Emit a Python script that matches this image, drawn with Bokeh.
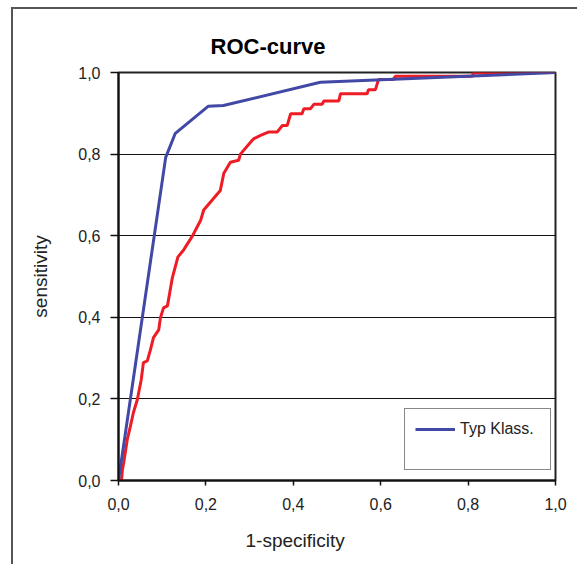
from bokeh.plotting import figure
from bokeh.models import Legend, LegendItem, FixedTicker, Title
from bokeh.embed import file_html
from bokeh.resources import INLINE

# ---- data ----
title_text = "ROC-curve"
x_label = "1-specificity"
y_label = "sensitivity"
legend_label = "Typ Klass."
ticks = [0.0, 0.2, 0.4, 0.6, 0.8, 1.0]
tick_labels = ["0,0", "0,2", "0,4", "0,6", "0,8", "1,0"]

blue_fpr = [0.0, 0.108, 0.130, 0.205, 0.240, 0.462, 1.0]
blue_tpr = [0.0, 0.792, 0.851, 0.917, 0.919, 0.976, 1.0]

red_fpr = [0.0, 0.007, 0.009, 0.012, 0.020, 0.027, 0.034, 0.043, 0.052, 0.057,
           0.066, 0.073, 0.080, 0.092, 0.096, 0.103, 0.112, 0.123, 0.136, 0.149,
           0.153, 0.169, 0.188, 0.195, 0.214, 0.233, 0.241, 0.256, 0.275, 0.279,
           0.306, 0.310, 0.325, 0.343, 0.363, 0.375, 0.386, 0.394, 0.420, 0.424,
           0.439, 0.447, 0.466, 0.470, 0.504, 0.508, 0.569, 0.572, 0.588, 0.595,
           0.629, 0.634, 0.810, 0.812, 1.0]
red_tpr = [0.0, 0.002, 0.027, 0.044, 0.100, 0.132, 0.166, 0.198, 0.247, 0.289,
           0.293, 0.320, 0.350, 0.369, 0.399, 0.423, 0.428, 0.496, 0.548, 0.565,
           0.572, 0.599, 0.638, 0.663, 0.687, 0.711, 0.753, 0.780, 0.785, 0.800,
           0.834, 0.838, 0.846, 0.854, 0.854, 0.870, 0.870, 0.899, 0.899, 0.911,
           0.911, 0.922, 0.922, 0.930, 0.930, 0.948, 0.948, 0.958, 0.958, 0.983,
           0.983, 0.991, 0.991, 0.999, 1.0]

FONT = "Liberation Sans"
TXT = "#222222"

p = figure(width=566, height=557, output_backend="svg", toolbar_location=None,
           x_range=(0, 1), y_range=(0, 1),
           min_border_left=105, min_border_top=63, min_border_right=24,
           min_border_bottom=85)
p.styles = {"border-left": "2px solid #555555", "border-top": "2px solid #555555",
            "margin-left": "11px", "margin-top": "7px"}
p.background_fill_color = "white"
p.border_fill_color = "white"
p.outline_line_color = "#222222"
p.outline_line_width = 2

p.title = Title(text=title_text, align="left", offset=92, standoff=28,
                text_font=FONT, text_font_size="22px", text_font_style="bold",
                text_color="black")

for ax in (p.xaxis, p.yaxis):
    ax.ticker = FixedTicker(ticks=ticks)
    ax.major_label_overrides = {t: l for t, l in zip(ticks, tick_labels)}
    ax.major_label_text_font = FONT
    ax.major_label_text_font_size = "16px"
    ax.major_label_text_color = TXT
    ax.axis_line_color = "#111111"
    ax.axis_line_width = 2
    ax.major_tick_line_color = "#111111"
    ax.major_tick_line_width = 1.5
    ax.major_tick_in = 0
    ax.minor_tick_line_color = None
p.xaxis.major_tick_out = 5
p.xaxis.major_label_standoff = 12
p.yaxis.major_tick_out = 8
p.yaxis.major_label_standoff = 10

p.yaxis.axis_label = y_label
p.yaxis.axis_label_text_font = FONT
p.yaxis.axis_label_text_font_size = "19px"
p.yaxis.axis_label_text_font_style = "normal"
p.yaxis.axis_label_text_color = TXT
p.yaxis.axis_label_standoff = 24

p.add_layout(Title(text=x_label, align="left", offset=127, standoff=31,
                   text_font=FONT, text_font_size="19px", text_font_style="normal",
                   text_color=TXT), "below")

p.xgrid.grid_line_color = None
p.ygrid.ticker = FixedTicker(ticks=ticks[1:-1])
p.ygrid.grid_line_color = "#111111"
p.ygrid.grid_line_width = 1.2

r_red = p.line(red_fpr, red_tpr, line_color="#ee1c25", line_width=3)
r_blue = p.line(blue_fpr, blue_tpr, line_color="#4248a5", line_width=3)
r_dummy = p.line([], [], line_alpha=0)

legend = Legend(items=[LegendItem(label=legend_label, renderers=[r_blue]),
                       LegendItem(label="", renderers=[r_dummy])],
                location=(286, 10), padding=10, spacing=0, margin=0,
                glyph_width=40, glyph_height=20, label_height=20, label_width=80,
                label_standoff=5,
                label_text_font=FONT, label_text_font_size="16px",
                label_text_color=TXT,
                border_line_color="#111111", border_line_width=1.5,
                background_fill_color="white", background_fill_alpha=1)
p.add_layout(legend)

open("out.html", "w").write(file_html(p, INLINE))
